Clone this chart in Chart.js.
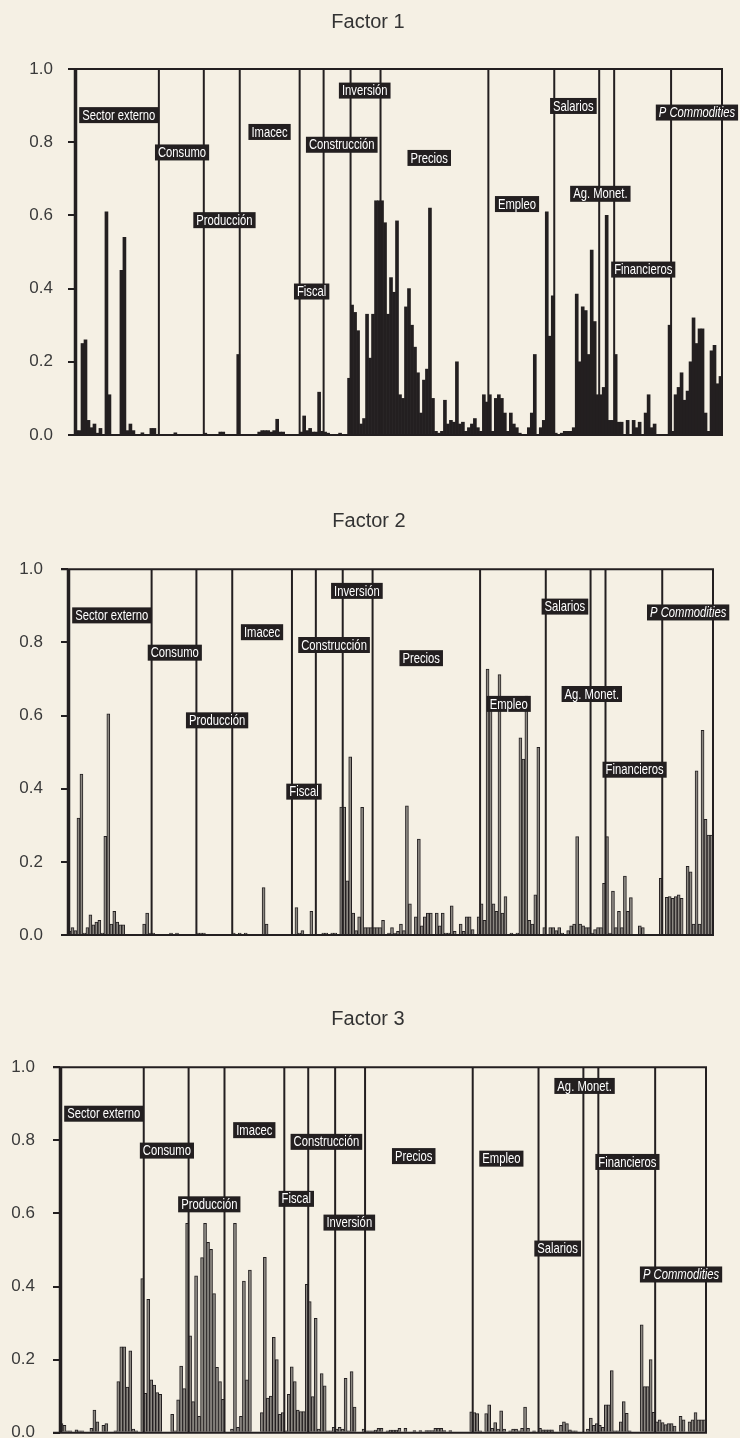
<!DOCTYPE html>
<html>
<head>
<meta charset="utf-8">
<script src="https://cdn.jsdelivr.net/npm/chart.js@4.4.1/dist/chart.umd.min.js"></script>
<style>
    html, body { margin: 0; padding: 0; background: #f5f0e4; }
    #wrap { position: relative; width: 740px; height: 1438px; background: #f5f0e4; overflow: hidden; }
    canvas { position: absolute; left: 0; }
</style>
</head>
<body>
<div id="wrap">
    <canvas id="factor1" style="top:0px" width="740" height="450"></canvas>
    <canvas id="factor2" style="top:490px" width="740" height="460"></canvas>
    <canvas id="factor3" style="top:988px" width="740" height="450"></canvas>
</div>
<script>
// variable groups, in the order they appear on the x axis
const groupNames = ['Sector externo', 'Consumo', 'Producción', 'Imacec', 'Fiscal', 'Construcción', 'Inversión',
    'Precios', 'Empleo', 'Salarios', 'Ag. Monet.', 'Financieros', 'P Commodities'];
const groupSizes = [28, 15, 12, 20, 8, 9, 10, 36, 22, 15, 5, 19, 17];
const yTicks = [0, 0.2, 0.4, 0.6, 0.8, 1.0];

// loadings, one line per group
const factor1 = [
    0.012, 0.012, 0.25, 0.26, 0.04, 0.02, 0.03, 0.005, 0.018, 0, 0.61, 0.11, 0, 0, 0, 0.45, 0.54, 0.012, 0.03, 0.012, 0, 0, 0.006, 0, 0, 0.018, 0.018, 0,
    0, 0, 0, 0, 0, 0.006, 0, 0, 0, 0, 0, 0, 0, 0, 0,
    0.005, 0, 0, 0, 0, 0.008, 0.008, 0, 0, 0, 0, 0.22,
    0, 0, 0, 0, 0, 0, 0.008, 0.012, 0.012, 0.012, 0.008, 0.012, 0.043, 0.008, 0.008, 0, 0, 0, 0, 0,
    0.008, 0.052, 0.012, 0.018, 0.008, 0.008, 0.117, 0.01,
    0.008, 0.005, 0, 0, 0, 0.005, 0, 0, 0.155,
    0.355, 0.335, 0.285, 0.03, 0.045, 0.33, 0.21, 0.33, 0.64, 0.64,
    0.64, 0.58, 0.33, 0.43, 0.39, 0.585, 0.11, 0.10, 0.35, 0.40, 0.30, 0.24, 0.17, 0.06, 0.15, 0.18, 0.62, 0.10,
    0.01, 0.005, 0.01, 0.095, 0.03, 0.04, 0.035, 0.20, 0.03, 0.035, 0.01, 0.02, 0.03, 0.045, 0.02, 0.01, 0.11, 0.09,
    0.11, 0.01, 0.10, 0.11, 0.10, 0.06, 0.01, 0.06, 0.03, 0.02, 0.005, 0, 0, 0.02, 0.06, 0.22, 0, 0.02, 0.04, 0.61, 0.27, 0.38,
    0.005, 0, 0.005, 0.01, 0.01, 0.01, 0.02, 0.385, 0.20, 0.35, 0.34, 0.22, 0.505, 0.31, 0.11,
    0.11, 0.13, 0.60, 0.04, 0.04,
    0.22, 0.035, 0.035, 0, 0.04, 0, 0.04, 0.02, 0.035, 0, 0.06, 0.11, 0.02, 0.03, 0, 0, 0, 0, 0.30,
    0.01, 0.11, 0.13, 0.17, 0.095, 0.12, 0.20, 0.32, 0.25, 0.29, 0.29, 0.06, 0.01, 0.23, 0.245, 0.14, 0.16
];
const factor2 = [
    0.01, 0.02, 0.012, 0.32, 0.44, 0.005, 0.02, 0.055, 0.028, 0.035, 0.04, 0.005, 0.27, 0.605, 0.03, 0.065, 0.035, 0.028, 0.028, 0, 0, 0, 0, 0, 0, 0.03, 0.06, 0.005,
    0.005, 0, 0, 0, 0, 0, 0.005, 0, 0.005, 0, 0, 0, 0, 0, 0,
    0.005, 0.005, 0.005, 0, 0, 0, 0, 0, 0, 0, 0, 0,
    0.005, 0, 0.005, 0, 0.005, 0, 0, 0, 0, 0, 0.13, 0.03, 0, 0, 0, 0, 0, 0, 0, 0,
    0, 0.075, 0.005, 0.012, 0, 0, 0.065, 0,
    0, 0, 0.005, 0.005, 0, 0.005, 0.005, 0, 0.35,
    0.35, 0.148, 0.487, 0.06, 0.012, 0.05, 0.349, 0.02, 0.02, 0.02,
    0.02, 0.02, 0.02, 0.04, 0, 0.005, 0.02, 0.005, 0.01, 0.03, 0.012, 0.353, 0.085, 0, 0.05, 0.262, 0.025, 0.05,
    0.06, 0.06, 0, 0.06, 0.025, 0.06, 0.005, 0.005, 0.08, 0.01, 0, 0.03, 0.01, 0.05, 0.05, 0.015, 0, 0.05,
    0.085, 0.04, 0.727, 0.62, 0.085, 0.065, 0.712, 0.06, 0.105, 0, 0.005, 0, 0.005, 0.539, 0.481, 0.653, 0.04, 0.03, 0.11, 0.513, 0, 0.02,
    0, 0.02, 0.02, 0.012, 0.02, 0.005, 0, 0.012, 0.025, 0.03, 0.269, 0.03, 0.025, 0.02, 0.02,
    0.005, 0.015, 0.02, 0.02, 0.141,
    0.269, 0.005, 0.12, 0.02, 0.065, 0.02, 0.161, 0.065, 0.102, 0, 0, 0.025, 0.02, 0, 0, 0, 0, 0, 0.155,
    0, 0.103, 0.105, 0.1, 0.105, 0.11, 0.1, 0, 0.188, 0.173, 0.03, 0.449, 0.03, 0.56, 0.316, 0.273, 0.273
];
const factor3 = [
    0.025, 0.02, 0.005, 0.005, 0, 0.008, 0.005, 0.005, 0, 0, 0.012, 0.062, 0.03, 0, 0.02, 0.025, 0, 0, 0.005, 0.14, 0.235, 0.235, 0.125, 0.224, 0.01, 0.005, 0, 0.422,
    0.108, 0.365, 0.145, 0.13, 0.11, 0.105, 0, 0, 0, 0.05, 0.005, 0.09, 0.182, 0.121, 0.573,
    0.265, 0.085, 0.429, 0.045, 0.479, 0.573, 0.521, 0.502, 0.381, 0.179, 0.14, 0.091,
    0, 0, 0.01, 0.573, 0.015, 0.045, 0.415, 0.145, 0.445, 0, 0, 0, 0.055, 0.48, 0.095, 0.1, 0.261, 0.2, 0.05, 0.055,
    0.005, 0.105, 0.18, 0.14, 0.062, 0.058, 0.058, 0.406,
    0.359, 0.099, 0.313, 0.01, 0.162, 0.128, 0.005, 0.005, 0.015,
    0.01, 0.015, 0.01, 0.149, 0.005, 0.167, 0.07, 0, 0, 0.01,
    0.005, 0.005, 0.005, 0.007, 0.012, 0.012, 0, 0.005, 0.007, 0.007, 0.007, 0.012, 0, 0.012, 0, 0, 0.006, 0,
    0.006, 0, 0.006, 0.006, 0.006, 0.012, 0.012, 0.012, 0.006, 0, 0.006, 0, 0, 0, 0, 0, 0, 0.057,
    0.055, 0.052, 0.005, 0, 0.052, 0.076, 0.012, 0.028, 0.01, 0.06, 0.01, 0, 0.005, 0.01, 0.01, 0.005, 0.012, 0.07, 0.012, 0, 0.005, 0,
    0.012, 0.008, 0.008, 0.008, 0.008, 0, 0, 0.02, 0.03, 0.025, 0.008, 0.005, 0.005, 0, 0,
    0, 0.01, 0.04, 0.02, 0.025,
    0.02, 0.015, 0.076, 0.076, 0.17, 0.005, 0.005, 0.03, 0.085, 0.053, 0.005, 0, 0, 0, 0.295, 0.126, 0.126, 0.2, 0.056,
    0.03, 0.035, 0.028, 0.022, 0.025, 0.025, 0.018, 0, 0.045, 0.035, 0, 0.03, 0.035, 0.055, 0.035, 0.035, 0.035
];

// where the group tags sit: left edge in variable slots, vertical centre in loading units
const tagSlot = [1.4, 26.7, 39.5, 57.9, 73.1, 77.1, 88.1, 111, 140.2, 158.6, 165.3, 179, 193.9];
const tagLevel1 = [0.874, 0.772, 0.587, 0.828, 0.392, 0.793, 0.941, 0.757, 0.631, 0.899, 0.659, 0.452, 0.881];
const tagLevel2 = [0.874, 0.772, 0.587, 0.828, 0.392, 0.793, 0.941, 0.757, 0.632, 0.898, 0.659, 0.452, 0.882];
const tagLevel3 = [0.873, 0.772, 0.625, 0.828, 0.640, 0.796, 0.575, 0.757, 0.750, 0.504, 0.949, 0.741, 0.433];

const INK = '#231f20';
const nVars = groupSizes.reduce((s, n) => s + n, 0);
const varLabels = Array.from({length: nVars}, (_, i) => 'v' + (i + 1));

const framePlugin = {
    id: 'frame',
    afterLayout(chart) {
        // let the tick labels use the space left of the axis box
        chart.scales.y.left = 0;
    },
    afterDatasetsDraw(chart, args, opts) {
        const {ctx, chartArea: a, scales: {x, y}} = chart;
        const step = x.getPixelForValue(1) - x.getPixelForValue(0);
        const edge = b => x.getPixelForValue(b) - step / 2;
        ctx.save();
        ctx.strokeStyle = INK;
        ctx.lineCap = 'butt';
        const vline = (px, w) => {
            ctx.lineWidth = w;
            ctx.beginPath();
            ctx.moveTo(px, a.top);
            ctx.lineTo(px, a.bottom);
            ctx.stroke();
        };
        let b = 0;
        groupSizes.forEach((n, i) => {
            vline(edge(b) + (i === 0 ? 0.5 : 0), i === 0 ? 3.5 : 2);
            b += n;
        });
        vline(edge(b), 2);
        ctx.lineWidth = 2;
        [a.top, a.bottom].forEach(py => {
            ctx.beginPath();
            ctx.moveTo(a.left - 7, py);
            ctx.lineTo(edge(b) + 1, py);
            ctx.stroke();
        });

        // group tags, condensed type
        ctx.textBaseline = 'middle';
        groupNames.forEach((name, i) => {
            const italic = name === 'P Commodities';
            ctx.font = (italic ? 'italic ' : '') + '15px "Liberation Sans", Arial, sans-serif';
            const squeeze = 0.75;
            const w = ctx.measureText(name).width * squeeze + 6;
            const lx = edge(tagSlot[i]);
            const cy = y.getPixelForValue(opts.levels[i]);
            ctx.fillStyle = INK;
            ctx.fillRect(lx, cy - 8, w, 16);
            ctx.fillStyle = '#ffffff';
            ctx.save();
            ctx.translate(lx + 3, cy + 0.5);
            ctx.scale(squeeze, 1);
            ctx.fillText(name, 0, 0);
            ctx.restore();
        });
        ctx.restore();
    }
};

function makeFactor(id, title, values, levels, geo) {
    new Chart(document.getElementById(id), {
        type: 'bar',
        data: {
            labels: varLabels,
            datasets: [{
                data: values,
                backgroundColor: geo.fill,
                borderColor: INK,
                borderWidth: geo.border,
                borderSkipped: 'start',
                barPercentage: 1,
                categoryPercentage: 1
            }]
        },
        options: {
            responsive: false,
            devicePixelRatio: 1,
            animation: false,
            events: [],
            layout: { padding: geo.pad },
            plugins: {
                legend: { display: false },
                tooltip: { enabled: false },
                title: {
                    display: true,
                    text: title,
                    color: '#333333',
                    font: { family: '"Liberation Sans", Arial, sans-serif', size: 20, weight: 'normal', lineHeight: 1.2 },
                    padding: { top: 0, bottom: geo.titleGap }
                },
                frame: { levels: levels }
            },
            scales: {
                x: { display: false, offset: true },
                y: {
                    min: 0,
                    max: 1,
                    afterFit(scale) {
                        scale.width = geo.axisW;
                        scale.paddingTop = 0;
                        scale.paddingBottom = 0;
                    },
                    afterBuildTicks(scale) { scale.ticks = yTicks.map(v => ({value: v})); },
                    ticks: {
                        color: '#3a3a3a',
                        padding: geo.tickPad,
                        font: { family: '"Liberation Sans", Arial, sans-serif', size: 17 },
                        callback: v => v.toFixed(1)
                    },
                    grid: { drawOnChartArea: false, drawTicks: true, tickLength: 7, lineWidth: 2, color: INK },
                    border: { display: false }
                }
            }
        },
        plugins: [framePlugin]
    });
}

makeFactor('factor1', 'Factor 1', factor1, tagLevel1,
    { pad: {left: 14, right: 18, top: 10, bottom: 15}, axisW: 61, titleGap: 35, tickPad: 15, fill: INK, border: 0 });
makeFactor('factor2', 'Factor 2', factor2, tagLevel2,
    { pad: {left: 25, right: 27, top: 19, bottom: 15}, axisW: 43, titleGap: 36.3, tickPad: 18, fill: '#8c8882', border: 1 });
makeFactor('factor3', 'Factor 3', factor3, tagLevel3,
    { pad: {left: 30, right: 34, top: 19, bottom: 5.3}, axisW: 30, titleGap: 36.3, tickPad: 18, fill: '#8c8882', border: 1 });
</script>
</body>
</html>
